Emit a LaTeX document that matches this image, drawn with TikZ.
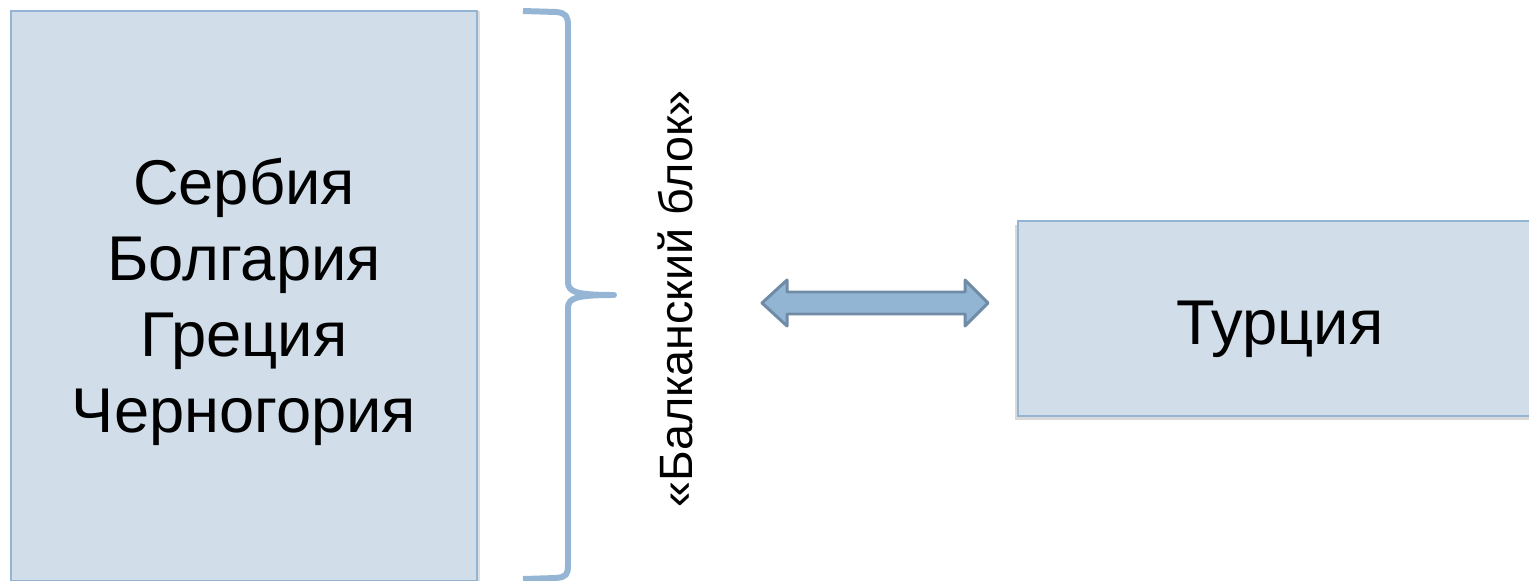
\documentclass[tikz,border=0pt]{standalone}
\usepackage{fontspec}
\setmainfont{Liberation Sans}
\usetikzlibrary{positioning, shadows}

\definecolor{boxfill}{HTML}{D1DEEA}
\definecolor{boxline}{HTML}{94B4D4}
\definecolor{bracecol}{HTML}{95B5D5}
\definecolor{arrowfill}{HTML}{93B5D4}
\definecolor{arrowline}{HTML}{6F8BA5}

\begin{document}
\begin{tikzpicture}[x=0.02cm, y=-0.02cm,
            box/.style={rectangle, draw=boxline, line width=1.2pt, fill=boxfill, inner sep=0pt},
            bigtext/.style={align=center, inner sep=0pt, font=\fontsize{36}{43.2}\selectfont},
            sidetext/.style={inner sep=0pt, rotate=90, font=\fontsize{26.6}{30}\selectfont},
            brace/.style={draw=bracecol, line width=3.4pt, line cap=butt, line join=round},
            dblarrow/.style={draw=arrowline, fill=arrowfill, line width=1.7pt, line join=round}
        ]
            \useasboundingbox (0,0) rectangle (1529,581);

% Balkan states
            \node[box, minimum width=9.32cm, minimum height=11.4cm,
                  drop shadow={shadow xshift=2pt, shadow yshift=0pt, opacity=0.25}] (states) at (244,296) {};
            \node[bigtext] (names) at (244,302) {Сербия\\Болгария\\Греция\\Черногория};

% Brace
            \draw[brace] (523,11) -- (556,12) .. controls (566,13) and (568,16) .. (568,26)
                -- (568,282) .. controls (568,292) and (576,295) .. (614,295)
                .. controls (576,295) and (568,298) .. (568,308)
                -- (568,565) .. controls (568,575) and (566,577) .. (556,578) -- (523,579);

% Bloc label
            \node[sidetext] (bloc) at (675,299) {«Балканский блок»};

% Double arrow
            \draw[dblarrow] (762,303) -- (787,280) -- (787,292) -- (965,292) -- (965,280)
                -- (988,303) -- (965,326) -- (965,314) -- (787,314) -- (787,326) -- cycle;

% Turkey
            \node[box, minimum width=10.54cm, minimum height=3.9cm,
                  drop shadow={shadow xshift=-2pt, shadow yshift=-2.5pt, opacity=0.3}] (turkey) at (1281.5,318.5) {};
            \node[bigtext, anchor=base] (turkeyname) at (1280,344) {Турция};

        \end{tikzpicture}
\end{document}
